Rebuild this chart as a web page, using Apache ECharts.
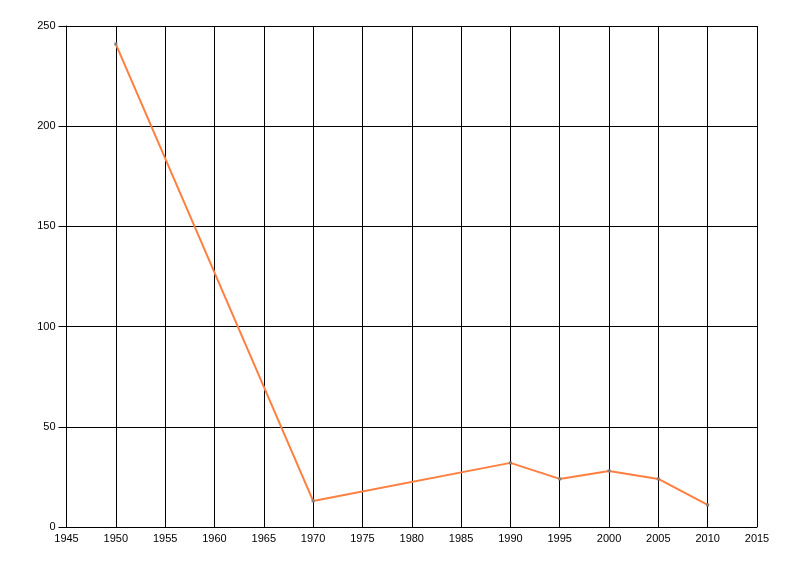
<!DOCTYPE html>
<html><head><meta charset="utf-8">
<script src="https://cdn.jsdelivr.net/npm/echarts@6/dist/echarts.min.js"></script>
<style>html,body{margin:0;padding:0;background:#fff}#c{width:800px;height:576px}</style>
</head><body><div id="c"></div>
<script>
var years = [1950, 1970, 1990, 1995, 2000, 2005, 2010];
var values = [241, 13, 32, 24, 28, 24, 11];
var xTicks = {min: 1945, max: 2015, interval: 5};
var yTicks = {min: 0, max: 250, interval: 50};

var chart = echarts.init(document.getElementById('c'), null, {renderer: 'canvas'});
var font = {fontFamily: 'Liberation Sans', fontSize: 11, color: '#000'};
chart.setOption({
  animation: false,
  backgroundColor: '#fff',
  grid: {left: 66.5, right: 43, top: 26, bottom: 49, containLabel: false},
  xAxis: {
    type: 'value', min: xTicks.min, max: xTicks.max, interval: xTicks.interval,
    axisLine: {show: true, lineStyle: {color: '#000', width: 1}},
    axisTick: {show: false},
    axisLabel: Object.assign({margin: 6, formatter: function(v){return String(v);}}, font),
    splitLine: {show: true, lineStyle: {color: '#000', width: 1}}
  },
  yAxis: {
    type: 'value', min: yTicks.min, max: yTicks.max, interval: yTicks.interval,
    axisLine: {show: true, lineStyle: {color: '#000', width: 1}},
    axisTick: {show: true, length: 8, lineStyle: {color: '#000'}},
    axisLabel: Object.assign({margin: 11}, font),
    splitLine: {show: true, lineStyle: {color: '#000', width: 1}}
  },
  series: [{
    type: 'line',
    data: years.map(function(y, i){ return [y, values[i]]; }),
    symbol: 'rect', symbolSize: 3,
    itemStyle: {color: '#808080'},
    lineStyle: {color: '#FF7F40', width: 2},
    z: 5
  }]
});
</script></body></html>
